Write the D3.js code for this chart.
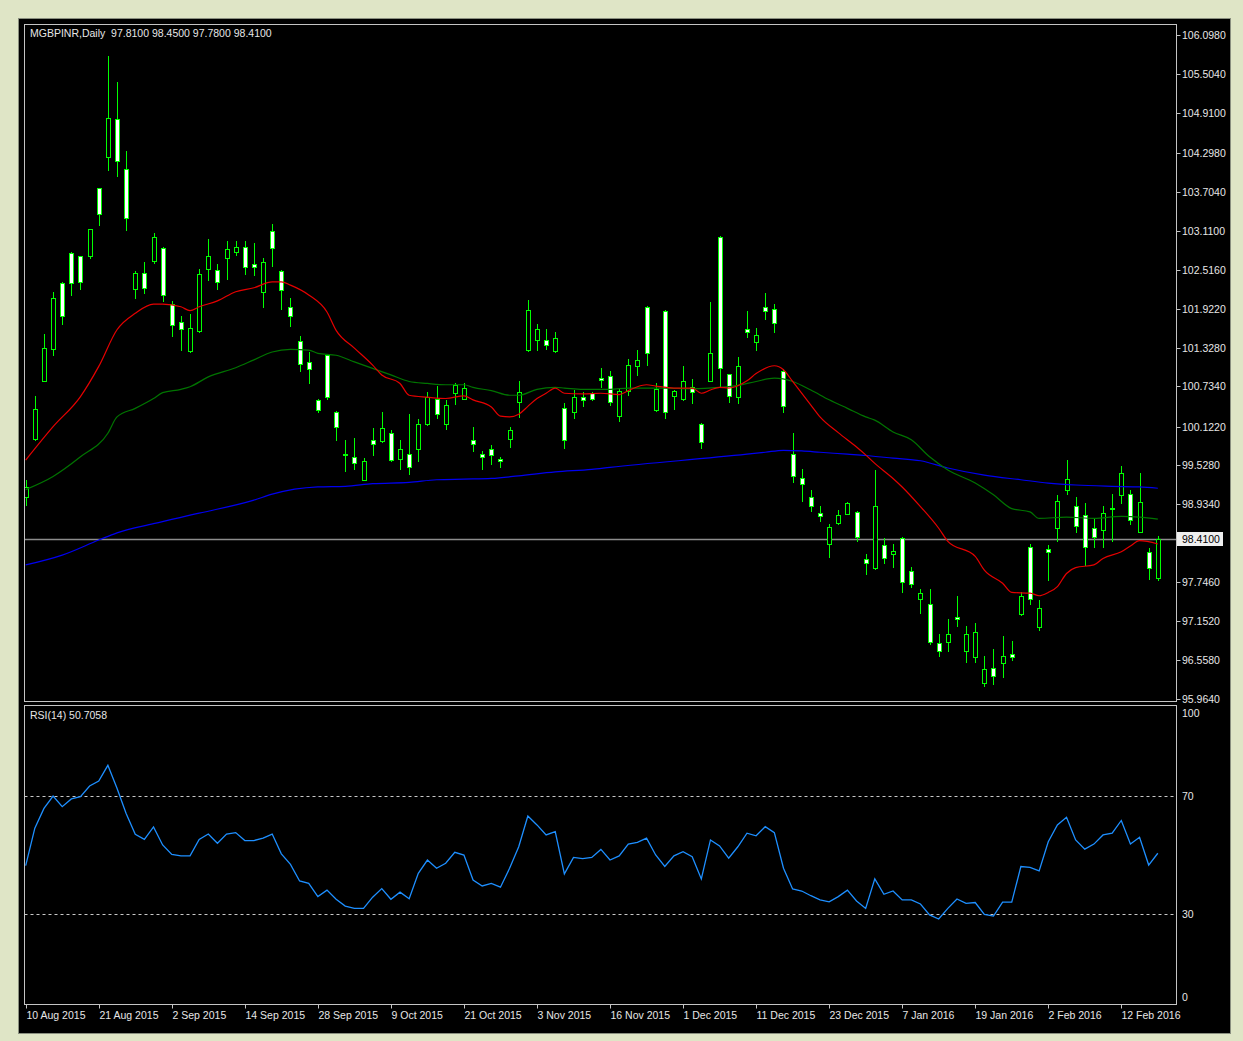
<!DOCTYPE html>
<html><head><meta charset="utf-8">
<script src="https://cdnjs.cloudflare.com/ajax/libs/d3/7.8.5/d3.min.js"></script>
<style>
html,body{margin:0;padding:0;background:#dfe5c6;}
svg{display:block;font-family:"Liberation Sans",Arial,sans-serif;}
text{white-space:pre;}
</style></head>
<body><svg id="chart" width="1243" height="1041"></svg>
<script>
// header texts
const symbolTitle = 'MGBPINR,Daily  97.8100 98.4500 97.7800 98.4100';
const rsiTitle = 'RSI(14) 50.7058';
const lastPrice = 98.41;

// daily candles, bar 0 = 10 Aug 2015
const open = [99.05,99.93,100.82,101.30,102.31,102.77,102.72,102.72,103.76,104.23,
  104.81,104.06,102.22,102.47,102.65,102.85,101.99,101.72,101.28,101.58,
  102.53,102.51,102.69,102.78,102.86,102.60,102.18,103.11,102.50,101.95,
  101.43,101.10,100.53,101.22,100.35,99.71,99.65,99.31,99.91,99.90,
  100.03,99.62,99.70,99.78,100.16,100.54,100.16,100.63,100.55,99.91,
  99.70,99.78,99.62,99.93,100.49,101.29,101.44,101.44,101.27,100.40,
  100.34,100.57,100.64,100.87,100.90,100.28,100.67,101.04,101.95,100.37,
  101.89,100.59,100.54,100.72,100.16,100.82,103.02,100.92,100.58,101.61,
  101.42,101.94,101.92,100.97,99.71,99.33,99.04,98.80,98.33,98.65,
  98.78,98.82,98.10,97.96,98.31,98.17,98.42,97.92,97.49,97.41,
  96.82,96.83,97.22,96.69,96.60,96.21,96.44,96.52,96.65,97.26,
  98.29,97.07,98.25,98.58,99.16,98.91,98.77,98.57,98.54,98.88,
  99.08,99.10,98.52,98.21,97.81];
const high = [99.31,100.59,101.53,102.18,102.33,102.78,102.73,103.14,103.77,105.78,
  105.38,104.32,102.49,102.64,103.07,102.86,102.04,101.81,101.84,102.52,
  102.98,102.61,102.95,102.95,102.95,102.92,102.70,103.22,102.51,102.08,
  101.50,101.26,100.54,101.23,100.36,99.92,99.95,99.64,100.10,100.35,
  100.07,99.92,100.31,100.24,100.65,100.74,100.53,100.78,100.78,100.11,
  99.75,99.84,99.65,100.11,100.82,102.06,101.69,101.61,101.57,100.48,
  100.68,100.65,100.65,101.01,100.97,100.71,101.15,101.29,101.96,100.78,
  101.90,100.68,101.05,100.85,100.17,102.03,103.03,100.93,101.18,101.89,
  101.63,102.16,101.99,101.00,100.02,99.48,99.15,98.91,98.63,98.85,
  98.97,98.83,98.17,99.46,98.42,98.33,98.43,97.98,97.64,97.65,
  96.95,97.18,97.54,97.08,97.13,96.62,96.72,96.93,96.85,97.60,
  98.33,97.47,98.32,99.08,99.61,99.04,98.95,98.71,98.91,99.10,
  99.52,99.15,99.42,98.27,98.45];
const low = [98.92,99.92,100.81,101.21,101.69,102.13,102.22,102.69,103.20,104.03,
  103.94,103.12,102.09,102.16,102.62,102.04,101.50,101.29,101.26,101.57,
  102.36,102.22,102.38,102.74,102.45,102.43,101.94,102.58,101.91,101.66,
  100.97,100.79,100.34,100.54,99.91,99.45,99.47,99.30,99.69,99.89,
  99.60,99.47,99.40,99.60,100.15,100.26,100.08,100.46,100.54,99.75,
  99.47,99.55,99.50,99.81,100.27,101.27,101.29,101.30,101.26,99.79,
  100.25,100.43,100.52,100.73,100.45,100.20,100.61,100.91,101.06,100.36,
  100.26,100.39,100.53,100.48,99.79,100.81,100.72,100.49,100.48,101.49,
  101.29,101.76,101.56,100.35,99.28,98.99,98.83,98.68,98.13,98.63,
  98.78,98.37,97.87,97.95,98.04,97.98,97.59,97.68,97.28,96.81,
  96.62,96.70,97.08,96.53,96.53,96.16,96.20,96.30,96.56,97.25,
  97.41,97.02,97.78,98.37,99.09,98.52,98.01,98.28,98.28,98.37,
  98.96,98.64,98.51,97.79,97.78];
const close = [99.20,100.39,101.32,102.09,101.81,102.32,102.33,103.13,103.37,104.83,
  104.18,103.31,102.46,102.24,103.02,102.13,101.67,101.61,101.63,102.45,
  102.73,102.33,102.83,102.86,102.56,102.55,102.64,102.85,102.20,101.81,
  101.08,101.00,100.37,100.57,100.11,99.69,99.56,99.60,99.85,100.10,
  99.61,99.78,99.51,100.16,100.57,100.31,100.45,100.75,100.71,99.85,
  99.65,99.69,99.60,100.07,100.65,101.90,101.61,101.36,101.48,99.91,
  100.58,100.52,100.55,100.83,100.49,100.67,101.06,101.14,101.25,100.70,
  100.34,100.67,100.82,100.65,99.89,101.25,101.01,100.59,101.05,101.56,
  101.52,101.89,101.71,100.44,99.36,99.24,98.91,98.75,98.59,98.77,
  98.96,98.44,98.04,98.91,98.11,98.23,97.75,97.72,97.58,96.83,
  96.69,96.95,97.18,96.95,96.98,96.42,96.31,96.62,96.60,97.54,
  97.49,97.35,98.21,98.99,99.32,98.61,98.29,98.44,98.81,98.86,
  99.42,98.70,98.97,97.96,98.41];

// moving averages: [bar, price]
const maRed = [[0,99.61],[3,100.12],[6,100.58],[8,101.04],[10,101.60],[12,101.85],[14,101.99],
  [15,101.99],[17,101.95],[18,101.89],[19,101.95],[21,102.04],[23,102.18],[25,102.24],[27,102.33],
  [28,102.33],[29,102.28],[31,102.13],[33,101.87],[34,101.59],[36,101.32],[38,101.06],[39,100.91],
  [41,100.78],[42,100.60],[44,100.57],[46,100.55],[48,100.59],[49,100.53],[51,100.42],[52,100.28],
  [53,100.27],[54,100.31],[55,100.43],[56,100.55],[57,100.63],[58,100.71],[59,100.63],[61,100.62],
  [63,100.63],[65,100.61],[66,100.67],[67,100.73],[68,100.76],[69,100.74],[71,100.71],[73,100.71],
  [74,100.63],[75,100.68],[76,100.72],[77,100.71],[79,100.82],[80,100.93],[82,101.05],[83,100.99],
  [84,100.81],[86,100.45],[87,100.27],[89,100.03],[91,99.81],[92,99.69],[93,99.56],[95,99.33],
  [96,99.20],[98,98.90],[100,98.57],[101,98.37],[104,98.14],[105,97.93],[107,97.73],[108,97.59],
  [110,97.58],[111,97.54],[112,97.59],[113,97.68],[114,97.88],[115,97.97],[117,98.01],[118,98.11],
  [120,98.21],[121,98.30],[122,98.38],[124,98.33]];
const maGreen = [[0,99.16],[3,99.36],[6,99.66],[9,100.02],[10,100.27],[12,100.40],[14,100.55],
  [15,100.64],[17,100.69],[18,100.73],[20,100.88],[23,101.02],[25,101.14],[27,101.26],[29,101.30],
  [31,101.29],[32,101.24],[34,101.21],[36,101.11],[38,101.01],[40,100.91],[42,100.81],[44,100.78],
  [46,100.76],[48,100.76],[49,100.72],[51,100.67],[53,100.60],[54,100.60],[56,100.69],[58,100.72],
  [59,100.71],[61,100.69],[64,100.69],[66,100.71],[70,100.71],[73,100.70],[76,100.72],[78,100.75],
  [80,100.81],[82,100.86],[84,100.81],[86,100.68],[88,100.53],[90,100.40],[92,100.27],[93,100.22],
  [95,100.04],[97,99.92],[99,99.66],[101,99.46],[104,99.26],[106,99.08],[108,98.87],[110,98.82],
  [111,98.72],[114,98.74],[117,98.72],[120,98.75],[122,98.74],[124,98.71]];
const maBlue = [[0,98.01],[4,98.16],[8,98.39],[10,98.50],[14,98.64],[19,98.80],[25,99.00],
  [27,99.09],[32,99.20],[35,99.21],[38,99.25],[42,99.27],[45,99.31],[48,99.32],[51,99.33],
  [54,99.37],[58,99.43],[62,99.47],[64,99.50],[79,99.70],[81,99.73],[83,99.76],[85,99.75],
  [87,99.73],[90,99.70],[92,99.68],[95,99.64],[98,99.60],[101,99.49],[105,99.38],[109,99.31],
  [112,99.26],[115,99.23],[119,99.21],[122,99.20],[124,99.18]];

// RSI(14) per bar
const rsi = [46.5,59.2,65.9,70.1,66.5,69.1,69.9,73.5,75.2,80.5,
  72.7,64.2,57.1,55.4,59.6,53.5,50.3,49.8,49.8,55.4,
  57.2,54.1,57.2,57.7,55.0,55.0,55.8,57.2,50.5,46.9,
  41.3,40.5,36.0,38.2,35.1,32.8,32.0,32.0,35.8,38.7,
  35.1,37.5,35.3,43.9,48.4,45.6,47.3,51.0,50.1,41.6,
  39.6,40.5,39.2,45.6,52.9,63.3,60.3,56.9,58.0,43.7,
  49.3,48.9,49.3,52.0,48.4,49.8,53.8,54.4,55.8,50.1,
  46.2,49.8,51.2,49.5,42.0,55.2,53.2,49.0,52.9,57.5,
  56.6,59.7,57.7,45.6,38.6,37.9,36.3,34.9,34.2,36.0,
  38.2,34.5,32.0,42.0,36.8,37.9,34.9,34.9,33.5,29.8,
  28.4,32.0,35.2,33.7,34.0,30.0,29.4,34.1,34.1,46.2,
  45.9,44.7,54.6,60.3,62.9,55.2,52.1,53.8,56.9,57.5,
  61.8,53.8,56.1,46.7,50.7];

// axis labels (98.3400 sits under the last-price box, so it is left out)
const priceTicks = ['106.0980','105.5040','104.9100','104.2980','103.7040','103.1100','102.5160',
  '101.9220','101.3280','100.7340','100.1220','99.5280','98.9340','97.7460','97.1520',
  '96.5580','95.9640'];
const dateLabels = ['10 Aug 2015','21 Aug 2015','2 Sep 2015','14 Sep 2015','28 Sep 2015',
  '9 Oct 2015','21 Oct 2015','3 Nov 2015','16 Nov 2015','1 Dec 2015','11 Dec 2015',
  '23 Dec 2015','7 Jan 2016','19 Jan 2016','2 Feb 2016','12 Feb 2016'];
const dateEvery = 8;
const rsiLevels = [70, 30];
const rsiTicks = [100, 70, 30, 0];

const svg = d3.select('#chart');
const L = 24.5, R = 1176.5, mainTop = 24.5, mainBot = 701.5, rsiTop = 705.5, rsiBot = 1004.5;
const frame = '#c4c4c4', textCol = '#e6e6e6', bar = '#00ff00';

const x = d3.scaleLinear().domain([0, close.length - 1]).range([25.7, 25.7 + 9.13 * (close.length - 1)]);
const y = d3.scaleLinear().domain([95.964, 106.098]).range([699, 35]);
const yr = d3.scaleLinear().domain([0, 100]).range([1002.8, 707.8]);

// backgrounds
svg.append('rect').attr('width', 1243).attr('height', 1041).attr('fill', '#dfe5c6');
svg.append('rect').attr('x', 18.5).attr('y', 18.5).attr('width', 1212).attr('height', 1015)
  .attr('fill', '#000').attr('stroke', '#8a8f80');

const defs = svg.append('defs');
defs.append('clipPath').attr('id', 'clipMain').append('rect')
  .attr('x', L + 0.5).attr('y', mainTop + 0.5).attr('width', R - L - 1).attr('height', mainBot - mainTop - 1);
defs.append('clipPath').attr('id', 'clipRsi').append('rect')
  .attr('x', L + 0.5).attr('y', rsiTop + 0.5).attr('width', R - L - 1).attr('height', rsiBot - rsiTop - 1);

// frames
svg.append('rect').attr('x', L).attr('y', mainTop).attr('width', R - L).attr('height', mainBot - mainTop)
  .attr('fill', 'none').attr('stroke', frame);
svg.append('rect').attr('x', L).attr('y', rsiTop).attr('width', R - L).attr('height', rsiBot - rsiTop)
  .attr('fill', 'none').attr('stroke', frame);

const main = svg.append('g').attr('clip-path', 'url(#clipMain)');

// current price line
const yLast = Math.round(y(lastPrice)) + 0.5;
main.append('line').attr('x1', L).attr('x2', R).attr('y1', yLast).attr('y2', yLast)
  .attr('stroke', '#8c8c8c').attr('stroke-width', 1.3);

// candles
const cx = i => Math.round(x(i));
const candles = main.append('g').selectAll('g').data(d3.range(close.length)).join('g');
candles.append('line')
  .attr('x1', i => cx(i) + 0.5).attr('x2', i => cx(i) + 0.5)
  .attr('y1', i => Math.round(y(high[i]))).attr('y2', i => Math.round(y(low[i])) + 1)
  .attr('stroke', bar);
candles.append('rect')
  .attr('x', i => cx(i) - 1.5).attr('width', 4)
  .attr('y', i => Math.round(y(Math.max(open[i], close[i]))) + 0.5)
  .attr('height', i => Math.max(1, Math.round(y(Math.min(open[i], close[i]))) - Math.round(y(Math.max(open[i], close[i])))))
  .attr('fill', i => close[i] >= open[i] ? '#000' : '#fff')
  .attr('stroke', bar);

// moving averages
const maLine = d3.line().x(d => x(d[0])).y(d => y(d[1])).curve(d3.curveMonotoneX);
[[maBlue, '#0000f0'], [maGreen, '#007400'], [maRed, '#e60000']].forEach(([data, col]) => {
  main.append('path').attr('d', maLine(data)).attr('fill', 'none').attr('stroke', col).attr('stroke-width', 1.2);
});

// price axis
const pAxis = svg.append('g');
priceTicks.forEach(t => {
  const yy = Math.round(y(+t)) + 0.5;
  pAxis.append('line').attr('x1', R).attr('x2', R + 4).attr('y1', yy).attr('y2', yy).attr('stroke', frame);
  pAxis.append('text').attr('x', 1182).attr('y', yy).attr('dy', '0.35em')
    .attr('font-size', 10.5).attr('fill', textCol).text(t);
});
pAxis.append('rect').attr('x', R + 0.5).attr('y', yLast - 7.5).attr('width', 46).attr('height', 14)
  .attr('fill', '#efefef');
pAxis.append('text').attr('x', 1182).attr('y', yLast).attr('dy', '0.35em')
  .attr('font-size', 10.5).attr('fill', '#000').text(lastPrice.toFixed(4));

svg.append('text').attr('x', 30).attr('y', 33).attr('dy', '0.35em').attr('font-size', 10.5)
  .attr('fill', textCol).text(symbolTitle);

// RSI panel
const rsiG = svg.append('g').attr('clip-path', 'url(#clipRsi)');
rsiLevels.forEach(v => {
  const yy = Math.round(yr(v)) + 0.5;
  rsiG.append('line').attr('x1', L).attr('x2', R).attr('y1', yy).attr('y2', yy)
    .attr('stroke', '#c8c8c8').attr('stroke-dasharray', '3,3');
});
rsiG.append('path')
  .attr('d', d3.line().x((d, i) => x(i)).y(d => yr(d))(rsi))
  .attr('fill', 'none').attr('stroke', '#1e8fff').attr('stroke-width', 1.3);
rsiTicks.forEach(v => {
  const yy = Math.min(997, Math.max(713, yr(v)));
  svg.append('text').attr('x', 1182).attr('y', yy).attr('dy', '0.35em')
    .attr('font-size', 10.5).attr('fill', textCol).text(v);
});
svg.append('text').attr('x', 30).attr('y', 715).attr('dy', '0.35em').attr('font-size', 10.5)
  .attr('fill', textCol).text(rsiTitle);

// date axis
dateLabels.forEach((lab, k) => {
  const xx = cx(k * dateEvery) + 0.5;
  svg.append('line').attr('x1', xx).attr('x2', xx).attr('y1', rsiBot).attr('y2', rsiBot + 4).attr('stroke', frame);
  svg.append('text').attr('x', xx).attr('y', 1015).attr('dy', '0.35em')
    .attr('font-size', 10.5).attr('fill', textCol).text(lab);
});
</script></body></html>
